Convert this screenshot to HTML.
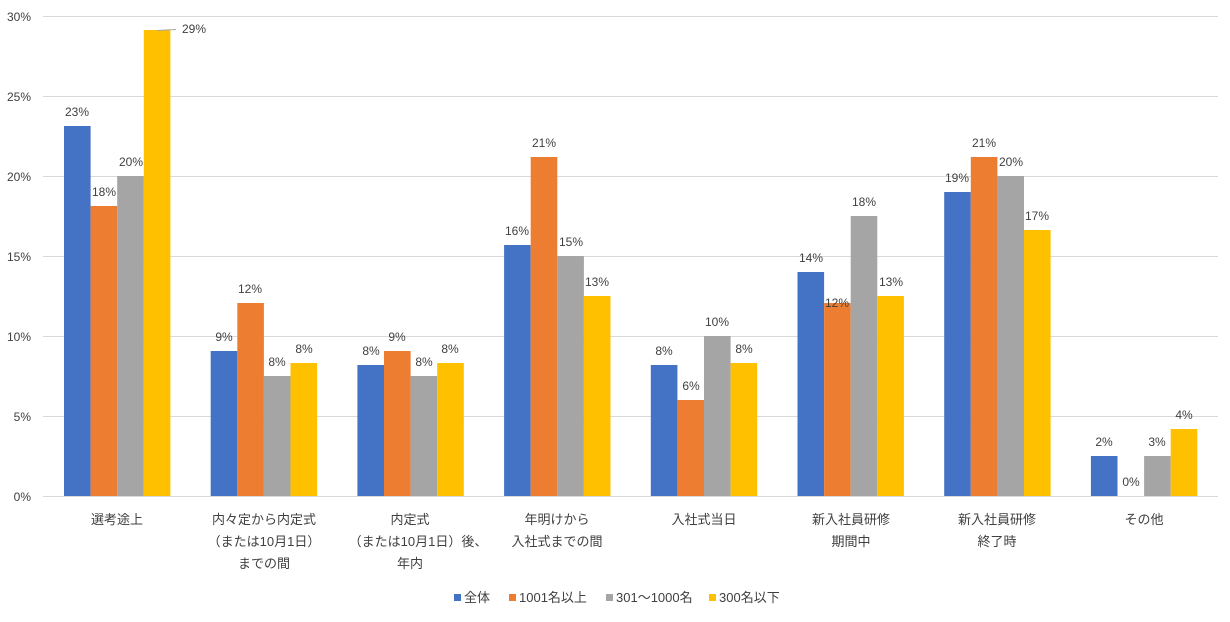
<!DOCTYPE html>
<html><head><meta charset="utf-8"><style>
body{margin:0;background:#fff}
svg text{font-family:"Liberation Sans","Noto Sans CJK JP",sans-serif;fill:#404040}
</style></head><body>
<svg width="1230" height="617" xmlns="http://www.w3.org/2000/svg">
<g stroke="#d9d9d9" stroke-width="1">
<line x1="43" x2="1218" y1="16.5" y2="16.5"/><line x1="43" x2="1218" y1="96.5" y2="96.5"/>
<line x1="43" x2="1218" y1="176.5" y2="176.5"/><line x1="43" x2="1218" y1="256.5" y2="256.5"/>
<line x1="43" x2="1218" y1="336.5" y2="336.5"/><line x1="43" x2="1218" y1="416.5" y2="416.5"/>
<line x1="43" x2="1218" y1="496.5" y2="496.5"/>
</g>
<g font-size="12" text-anchor="end">
<text x="31" y="21">30%</text><text x="31" y="101">25%</text><text x="31" y="181">20%</text>
<text x="31" y="261">15%</text><text x="31" y="341">10%</text><text x="31" y="421">5%</text><text x="31" y="501">0%</text>
</g>
<g id="bars">
<!-- G1 x0=64 -->
<rect x="64" y="126" width="26.6" height="370" fill="#4472c4"/>
<rect x="90.6" y="206" width="26.6" height="290" fill="#ed7d31"/>
<rect x="117.2" y="176" width="26.6" height="320" fill="#a5a5a5"/>
<rect x="143.8" y="30" width="26.6" height="466" fill="#ffc000"/>
<!-- G2 -->
<rect x="210.7" y="351" width="26.6" height="145" fill="#4472c4"/>
<rect x="237.3" y="303" width="26.6" height="193" fill="#ed7d31"/>
<rect x="263.9" y="376" width="26.6" height="120" fill="#a5a5a5"/>
<rect x="290.5" y="363" width="26.6" height="133" fill="#ffc000"/>
<!-- G3 -->
<rect x="357.4" y="365" width="26.6" height="131" fill="#4472c4"/>
<rect x="384" y="351" width="26.6" height="145" fill="#ed7d31"/>
<rect x="410.6" y="376" width="26.6" height="120" fill="#a5a5a5"/>
<rect x="437.2" y="363" width="26.6" height="133" fill="#ffc000"/>
<!-- G4 -->
<rect x="504.1" y="245" width="26.6" height="251" fill="#4472c4"/>
<rect x="530.7" y="157" width="26.6" height="339" fill="#ed7d31"/>
<rect x="557.3" y="256" width="26.6" height="240" fill="#a5a5a5"/>
<rect x="583.9" y="296" width="26.6" height="200" fill="#ffc000"/>
<!-- G5 -->
<rect x="650.8" y="365" width="26.6" height="131" fill="#4472c4"/>
<rect x="677.4" y="400" width="26.6" height="96" fill="#ed7d31"/>
<rect x="704" y="336" width="26.6" height="160" fill="#a5a5a5"/>
<rect x="730.6" y="363" width="26.6" height="133" fill="#ffc000"/>
<!-- G6 -->
<rect x="797.5" y="272" width="26.6" height="224" fill="#4472c4"/>
<rect x="824.1" y="303" width="26.6" height="193" fill="#ed7d31"/>
<rect x="850.7" y="216" width="26.6" height="280" fill="#a5a5a5"/>
<rect x="877.3" y="296" width="26.6" height="200" fill="#ffc000"/>
<!-- G7 -->
<rect x="944.2" y="192" width="26.6" height="304" fill="#4472c4"/>
<rect x="970.8" y="157" width="26.6" height="339" fill="#ed7d31"/>
<rect x="997.4" y="176" width="26.6" height="320" fill="#a5a5a5"/>
<rect x="1024" y="230" width="26.6" height="266" fill="#ffc000"/>
<!-- G8 -->
<rect x="1090.9" y="456" width="26.6" height="40" fill="#4472c4"/>
<rect x="1144.1" y="456" width="26.6" height="40" fill="#a5a5a5"/>
<rect x="1170.7" y="429" width="26.6" height="67" fill="#ffc000"/>
</g>
<line x1="157" y1="30.5" x2="176" y2="29.5" stroke="#a5a5a5"/>
<g font-size="12" text-anchor="middle">
<text x="77" y="116">23%</text><text x="104" y="196">18%</text><text x="131" y="166">20%</text><text x="194" y="33">29%</text>
<text x="224" y="341">9%</text><text x="250" y="293">12%</text><text x="277" y="366">8%</text><text x="304" y="353">8%</text>
<text x="371" y="355">8%</text><text x="397" y="341">9%</text><text x="424" y="366">8%</text><text x="450" y="353">8%</text>
<text x="517" y="235">16%</text><text x="544" y="147">21%</text><text x="571" y="246">15%</text><text x="597" y="286">13%</text>
<text x="664" y="355">8%</text><text x="691" y="390">6%</text><text x="717" y="326">10%</text><text x="744" y="353">8%</text>
<text x="811" y="262">14%</text><text x="837" y="307">12%</text><text x="864" y="206">18%</text><text x="891" y="286">13%</text>
<text x="957" y="182">19%</text><text x="984" y="147">21%</text><text x="1011" y="166">20%</text><text x="1037" y="220">17%</text>
<text x="1104" y="446">2%</text><text x="1131" y="486">0%</text><text x="1157" y="446">3%</text><text x="1184" y="419">4%</text>
</g>
<g font-size="13" text-anchor="middle">
<text x="117" y="524">選考途上</text>
<text x="264" y="524">内々定から内定式</text><text x="264" y="546">（または10月1日）</text><text x="264" y="568">までの間</text>
<text x="410" y="524">内定式</text><text x="418" y="546">（または10月1日）後、</text><text x="410" y="568">年内</text>
<text x="557" y="524">年明けから</text><text x="557" y="546">入社式までの間</text>
<text x="704" y="524">入社式当日</text>
<text x="851" y="524">新入社員研修</text><text x="851" y="546">期間中</text>
<text x="997" y="524">新入社員研修</text><text x="997" y="546">終了時</text>
<text x="1144" y="524">その他</text>
</g>
<g font-size="13">
<rect x="454" y="594" width="7" height="7" fill="#4472c4"/><text x="464" y="602">全体</text>
<rect x="509" y="594" width="7" height="7" fill="#ed7d31"/><text x="519" y="602">1001名以上</text>
<rect x="606" y="594" width="7" height="7" fill="#a5a5a5"/><text x="616" y="602">301～1000名</text>
<rect x="709" y="594" width="7" height="7" fill="#ffc000"/><text x="719" y="602">300名以下</text>
</g>
</svg>
</body></html>
